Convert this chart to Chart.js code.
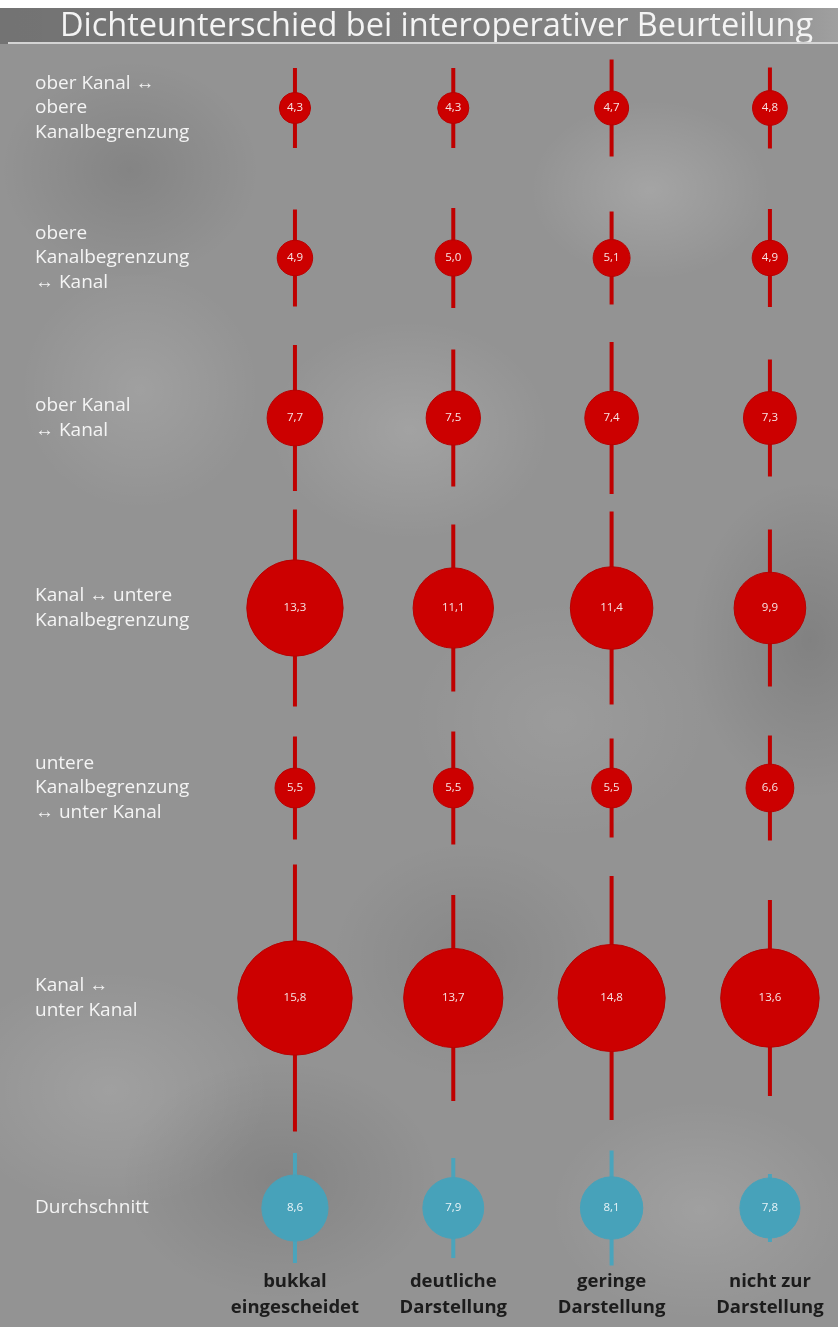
<!DOCTYPE html>
<html lang="de">
<head>
<meta charset="utf-8">
<title>Dichteunterschied bei interoperativer Beurteilung</title>
<script src="https://cdn.jsdelivr.net/npm/chart.js@4.4.1/dist/chart.umd.min.js"></script>
<style>
  html, body { margin: 0; padding: 0; background: #fff; }
  #wrap {
    position: relative;
    width: 838px;
    height: 1327px;
    background:
      linear-gradient(#ffffff 0 8px, transparent 8px),
      linear-gradient(90deg, rgba(0,0,0,0.22), rgba(0,0,0,0.16) 55%, rgba(0,0,0,0.02) 92%, rgba(255,255,255,0.12)) 0 8px / 100% 36px no-repeat,
      radial-gradient(ellipse 120px 90px at 650px 190px, rgba(255,255,255,0.16), transparent),
      radial-gradient(ellipse 140px 110px at 410px 430px, rgba(255,255,255,0.14), transparent),
      radial-gradient(ellipse 120px 120px at 140px 390px, rgba(255,255,255,0.12), transparent),
      radial-gradient(ellipse 160px 120px at 110px 1090px, rgba(255,255,255,0.12), transparent),
      radial-gradient(ellipse 150px 110px at 700px 1210px, rgba(255,255,255,0.12), transparent),
      radial-gradient(ellipse 150px 120px at 560px 720px, rgba(255,255,255,0.08), transparent),
      radial-gradient(ellipse 130px 110px at 130px 170px, rgba(0,0,0,0.10), transparent),
      radial-gradient(ellipse 120px 160px at 810px 640px, rgba(0,0,0,0.12), transparent),
      radial-gradient(ellipse 160px 120px at 280px 1180px, rgba(0,0,0,0.10), transparent),
      radial-gradient(ellipse 140px 120px at 470px 960px, rgba(0,0,0,0.08), transparent),
      #939393;
  }
</style>
</head>
<body>
<div id="wrap"><canvas id="chart"></canvas></div>
<script>
// Kategorien (x-Achse)
const categories = [
  ['bukkal', 'eingescheidet'],
  ['deutliche', 'Darstellung'],
  ['geringe', 'Darstellung'],
  ['nicht zur', 'Darstellung']
];

// Zeilen (y-Achse)
const rowLabels = [
  ['ober Kanal \u2194', 'obere', 'Kanalbegrenzung'],
  ['obere', 'Kanalbegrenzung', '\u2194 Kanal'],
  ['ober Kanal', '\u2194 Kanal'],
  ['Kanal \u2194 untere', 'Kanalbegrenzung'],
  ['untere', 'Kanalbegrenzung', '\u2194 unter Kanal'],
  ['Kanal \u2194', 'unter Kanal'],
  ['Durchschnitt']
];
const rowY = [6, 21, 37, 56, 74, 95, 116];

// Mittelwerte je Zeile
const oberKanalObereBegrenzung = [4.3, 4.3, 4.7, 4.8];
const obereBegrenzungKanal = [4.9, 5.0, 5.1, 4.9];
const oberKanalKanal = [7.7, 7.5, 7.4, 7.3];
const kanalUntereBegrenzung = [13.3, 11.1, 11.4, 9.9];
const untereBegrenzungUnterKanal = [5.5, 5.5, 5.5, 6.6];
const kanalUnterKanal = [15.8, 13.7, 14.8, 13.6];
const durchschnitt = [8.6, 7.9, 8.1, 7.8];

// Standardabweichungen (Fehlerbalken)
const sdOberKanalObereBegrenzung = [4.0, 4.0, 4.85, 4.05];
const sdObereBegrenzungKanal = [4.85, 5.0, 4.65, 4.9];
const sdOberKanalKanal = [7.3, 6.85, 7.6, 5.85];
const sdKanalUntereBegrenzung = [9.85, 8.35, 9.65, 7.85];
const sdUntereBegrenzungUnterKanal = [5.15, 5.65, 4.95, 5.25];
const sdKanalUnterKanal = [13.35, 10.3, 12.2, 9.8];
const sdDurchschnitt = [5.5, 5.0, 5.75, 3.4];

const redRows = [oberKanalObereBegrenzung, obereBegrenzungKanal, oberKanalKanal,
  kanalUntereBegrenzung, untereBegrenzungUnterKanal, kanalUnterKanal];
const redSd = [sdOberKanalObereBegrenzung, sdObereBegrenzungKanal, sdOberKanalKanal,
  sdKanalUntereBegrenzung, sdUntereBegrenzungUnterKanal, sdKanalUnterKanal];

const RED_SCALE = 3.62;
const BLUE_SCALE = 3.85;

function buildPoints(rows, sds, firstRow, scale) {
  const pts = [];
  rows.forEach((vals, r) => {
    vals.forEach((v, c) => {
      pts.push({ x: c, y: rowY[firstRow + r], r: v * scale, v: v, sd: sds[r][c] });
    });
  });
  return pts;
}

const redPoints = buildPoints(redRows, redSd, 0, RED_SCALE);
const bluePoints = buildPoints([durchschnitt], [sdDurchschnitt], 6, BLUE_SCALE);

// Fehlerbalken hinter den Blasen
const errorBars = {
  id: 'errorBars',
  beforeDatasetsDraw(chart) {
    const ctx = chart.ctx;
    const xs = chart.scales.x;
    const ys = chart.scales.y;
    chart.data.datasets.forEach(ds => {
      ctx.save();
      ctx.strokeStyle = ds.barColor;
      ctx.lineWidth = 4;
      ds.data.forEach(p => {
        const x = xs.getPixelForValue(p.x);
        ctx.beginPath();
        ctx.moveTo(x, ys.getPixelForValue(p.y - p.sd));
        ctx.lineTo(x, ys.getPixelForValue(p.y + p.sd));
        ctx.stroke();
      });
      ctx.restore();
    });
  }
};

// Werte in den Blasen
const valueLabels = {
  id: 'valueLabels',
  afterDatasetsDraw(chart) {
    const ctx = chart.ctx;
    ctx.save();
    ctx.font = '11.5px "Open Sans"';
    ctx.textAlign = 'center';
    ctx.textBaseline = 'middle';
    chart.data.datasets.forEach((ds, i) => {
      const meta = chart.getDatasetMeta(i);
      ctx.fillStyle = ds.labelColor;
      meta.data.forEach((el, j) => {
        ctx.fillText(ds.data[j].v.toFixed(1).replace('.', ','), el.x, el.y);
      });
    });
    ctx.restore();
  }
};

// Linie unter dem Titel
const titleRule = {
  id: 'titleRule',
  afterDraw(chart) {
    const ctx = chart.ctx;
    const y = chart.titleBlock.bottom;
    ctx.save();
    ctx.strokeStyle = '#d4d4d4';
    ctx.lineWidth = 2;
    ctx.beginPath();
    ctx.moveTo(8, y);
    ctx.lineTo(chart.width, y);
    ctx.stroke();
    ctx.restore();
  }
};

function noScalePadding(axis) {
  axis.paddingLeft = 0;
  axis.paddingRight = 0;
  axis.paddingTop = 0;
  axis.paddingBottom = 0;
}

new Chart(document.getElementById('chart'), {
  type: 'bubble',
  data: {
    datasets: [
      {
        data: redPoints,
        backgroundColor: '#cc0000',
        borderColor: '#b80000',
        borderWidth: 1,
        barColor: '#bf0000',
        labelColor: '#f6e4e4'
      },
      {
        data: bluePoints,
        backgroundColor: '#47a2ba',
        borderColor: '#47a2ba',
        borderWidth: 1,
        barColor: '#4aa4bc',
        labelColor: '#e8f4f8'
      }
    ]
  },
  options: {
    responsive: true,
    maintainAspectRatio: false,
    animation: false,
    layout: { autoPadding: false, padding: { left: 35, right: 0, top: 0, bottom: 0 } },
    plugins: {
      legend: { display: false },
      tooltip: { enabled: false },
      title: {
        display: true,
        text: 'Dichteunterschied bei interoperativer Beurteilung',
        color: '#f4f4f4',
        font: { family: 'Open Sans', size: 32.5, weight: 'normal', lineHeight: 1 },
        padding: { top: 10.5, bottom: 0 }
      }
    },
    scales: {
      x: {
        type: 'linear',
        min: -0.505,
        max: 3.43,
        grid: { display: false, drawTicks: false },
        border: { display: false },
        afterBuildTicks: axis => { axis.ticks = categories.map((c, i) => ({ value: i })); },
        afterFit: axis => { noScalePadding(axis); axis.height = 64; },
        ticks: {
          callback: v => categories[v],
          color: '#1c1c1c',
          font: { family: 'Open Sans', size: 18.5, weight: 'bold', lineHeight: 1.4 },
          padding: 6,
          maxRotation: 0
        }
      },
      y: {
        type: 'linear',
        reverse: true,
        min: -0.5,
        max: 121.5,
        grid: { display: false, drawTicks: false },
        border: { display: false },
        afterBuildTicks: axis => { axis.ticks = rowY.map(v => ({ value: v })); },
        afterFit: axis => { noScalePadding(axis); axis.width = 180; },
        ticks: {
          callback: v => rowLabels[rowY.indexOf(v)],
          color: '#f4f4f4',
          crossAlign: 'far',
          font: { family: 'Open Sans', size: 19, lineHeight: 1.3 }
        }
      }
    }
  },
  plugins: [errorBars, valueLabels, titleRule]
});
</script>
</body>
</html>
